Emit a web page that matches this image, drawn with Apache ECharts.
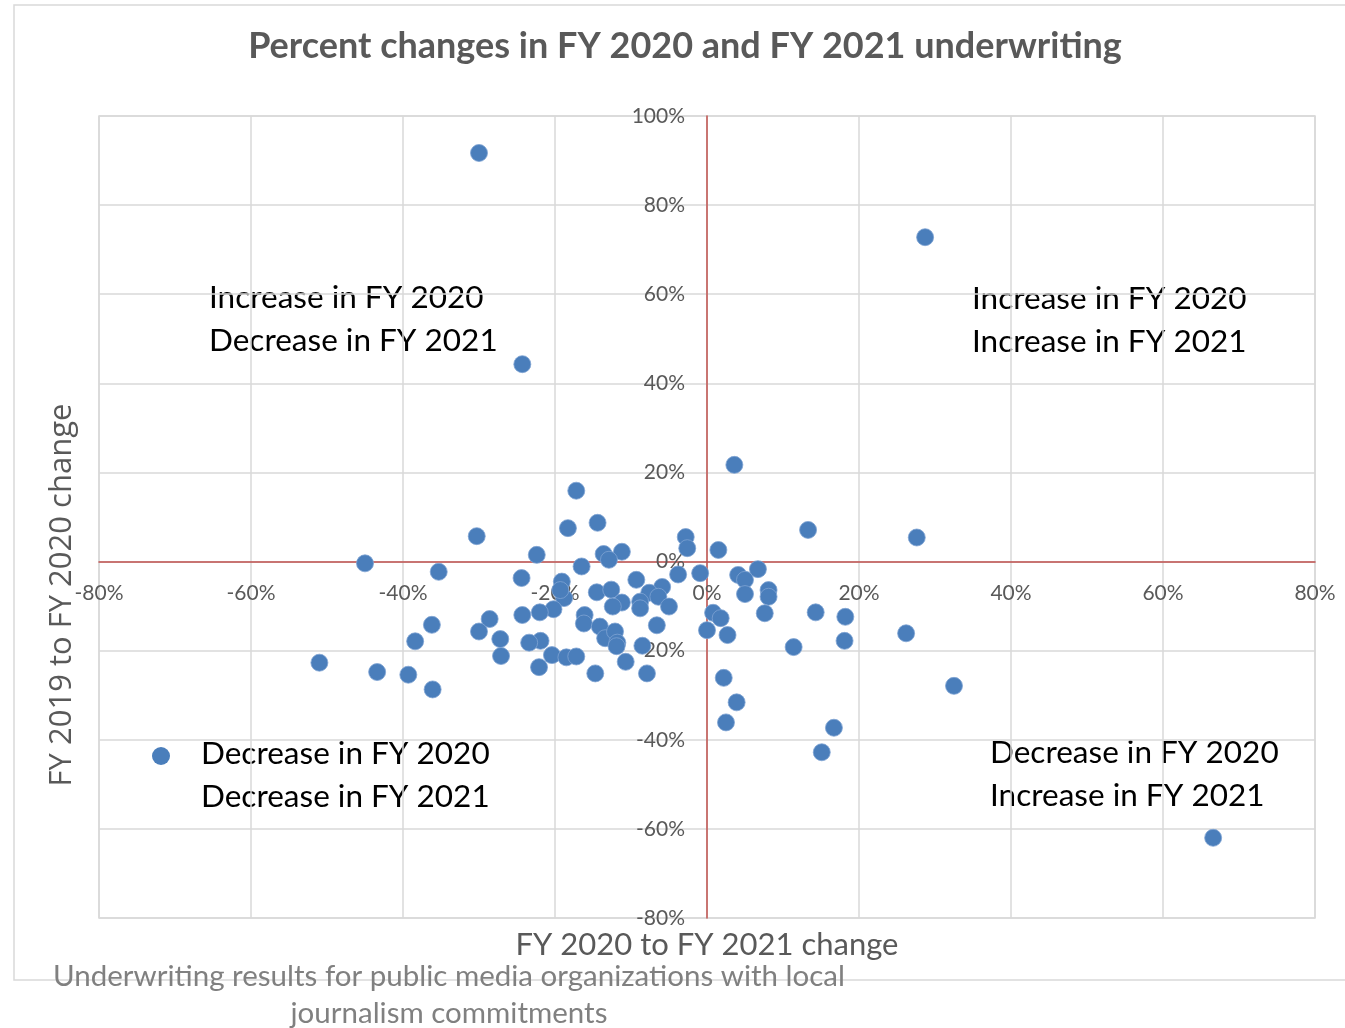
<!DOCTYPE html>
<html>
<head>
<meta charset="utf-8">
<script src="https://cdn.jsdelivr.net/npm/echarts@6/dist/echarts.min.js"></script>
<style>
  html, body { margin: 0; padding: 0; background: #fff; }
  #mainChart { width: 1345px; height: 1028px; }
</style>
</head>
<body>
<div id="mainChart"></div>
<script>
  // FY 2020 -> FY 2021 change (x, %)
  var fy21Change = [
    -30.0, 28.7, -24.3, 3.6, -17.2, 13.3, 27.6, -30.3, -18.3, -14.4,
    -2.8, -2.6, 1.5, -22.4, -13.6, -11.2, -12.9, -45.0, -35.3, -16.5,
    -0.9, -3.8, 6.7, 4.1, 5.0, -9.3, -24.4, -19.1, 5.0, 8.1,
    8.1, -5.9, -7.6, -14.5, -12.6, -18.8, -8.8, -6.4, -11.2, -12.4,
    -8.8, -5.0, -20.2, -22.0, -24.3, 0.8, 1.8, 7.6, 14.3, 18.2,
    -28.6, -16.1, -16.2, -6.6, -14.1, -36.2, -30.0, 0.0, -13.4, -12.1,
    2.7, 26.2, -27.2, -11.8, -38.4, -21.9, -23.4, 18.1, -8.5, 11.4,
    -27.1, -20.4, -18.5, -17.2, -10.7, -51.0, -22.1, -14.7, -7.9, -43.4,
    -39.3, -36.1, 2.2, 32.5, 3.9, 2.5, 16.7, 15.1, 66.6, -19.3,
    -11.9
  ];
  // FY 2019 -> FY 2020 change (y, %)
  var fy20Change = [
    91.7, 72.8, 44.3, 21.7, 15.9, 7.1, 5.4, 5.7, 7.5, 8.7,
    5.5, 3.0, 2.6, 1.5, 1.7, 2.2, 0.4, -0.4, -2.3, -1.1,
    -2.6, -2.9, -1.7, -3.0, -4.1, -4.1, -3.7, -4.5, -7.3, -6.4,
    -7.9, -5.7, -7.0, -6.9, -6.3, -8.2, -9.0, -7.9, -9.2, -10.1,
    -10.5, -10.1, -10.7, -11.4, -12.0, -11.5, -12.7, -11.6, -11.4, -12.4,
    -12.9, -12.0, -13.9, -14.3, -14.6, -14.2, -15.7, -15.4, -17.2, -15.7,
    -16.5, -16.1, -17.4, -18.2, -17.9, -17.8, -18.2, -17.8, -18.9, -19.2,
    -21.2, -21.0, -21.5, -21.3, -22.5, -22.7, -23.7, -25.1, -25.1, -24.8,
    -25.4, -28.7, -26.1, -27.9, -31.6, -36.1, -37.3, -42.8, -62.0, -6.4,
    -19.0
  ];

  var points = fy21Change.map(function (x, i) { return [x, fy20Change[i]]; });

  var quadrantLabels = [
    ['Increase in FY 2020', 'Decrease in FY 2021'],
    ['Increase in FY 2020', 'Increase in FY 2021'],
    ['Decrease in FY 2020', 'Decrease in FY 2021'],
    ['Decrease in FY 2020', 'Increase in FY 2021']
  ];
  // centre of the first line of each label
  var quadrantPos = [[209, 298], [972, 299], [201, 754], [990, 753]];

  var gridColor = '#d9d9d9';
  var redLine = '#c0504d';
  var labelColor = '#595959';

  // plot box
  var gLeft = 99, gRight = 30, gTop = 116, gBottom = 110;
  var plotW = 1345 - gLeft - gRight, plotH = 1028 - gTop - gBottom;
  // move axes (with their labels) onto the zero lines
  var xOffset = -(plotH * 80 / 180);
  var yOffset = -(plotW * 80 / 160);

  var graphics = [
    {
      type: 'rect', shape: { x: 14, y: 5, width: 1345, height: 975 },
      style: { fill: null, stroke: gridColor, lineWidth: 1.5 }, z: -10
    },
    {
      type: 'text', x: 685, y: 46,
      style: { text: 'Percent changes in FY 2020 and FY 2021 underwriting', fill: labelColor,
        font: 'bold 36px Lato', align: 'center', verticalAlign: 'middle' }
    },
    {
      type: 'text', x: 707, y: 945,
      style: { text: 'FY 2020 to FY 2021 change', fill: labelColor,
        font: '31px Lato', align: 'center', verticalAlign: 'middle' }
    },
    {
      type: 'text', x: 62, y: 595, rotation: Math.PI / 2,
      style: { text: 'FY 2019 to FY 2020 change', fill: labelColor,
        font: '31px "Open Sans"', align: 'center', verticalAlign: 'middle' }
    },
    {
      type: 'text', x: 449, y: 995,
      style: { text: 'Underwriting results for public media organizations with local\njournalism commitments',
        fill: '#808080', font: '29.5px Lato', lineHeight: 37, align: 'center', verticalAlign: 'middle' }
    }
  ];
  quadrantLabels.forEach(function (lines, i) {
    graphics.push({
      type: 'text', x: quadrantPos[i][0], y: quadrantPos[i][1] - 21.5,
      style: { text: lines.join('\n'), fill: '#000', font: '31.5px Lato', lineHeight: 43,
        align: 'left', verticalAlign: 'top' }
    });
  });

  var myChart = echarts.init(document.getElementById('mainChart'));
  myChart.setOption({
    animation: false,
    backgroundColor: '#fff',
    grid: { left: gLeft, right: gRight, top: gTop, bottom: gBottom, show: true, borderColor: gridColor, borderWidth: 1.5 },
    legend: {
      data: [' '], left: 152, top: 747, padding: 0, icon: 'circle', itemWidth: 18, itemHeight: 18,
      itemStyle: { borderWidth: 0 },
      textStyle: { fontSize: 1, color: '#fff' }
    },
    xAxis: {
      type: 'value', min: -80, max: 80, interval: 20, position: 'bottom', offset: xOffset,
      axisLine: { onZero: false, lineStyle: { color: redLine, width: 1.5 } },
      axisTick: { show: false },
      axisLabel: { formatter: '{value}%', color: labelColor, fontSize: 21, fontFamily: 'Lato', margin: 21 },
      splitLine: { lineStyle: { color: gridColor, width: 1.5 } }
    },
    yAxis: {
      type: 'value', min: -80, max: 100, interval: 20, position: 'left', offset: yOffset,
      axisLine: { onZero: false, lineStyle: { color: redLine, width: 1.5 } },
      axisTick: { show: false },
      axisLabel: { formatter: '{value}%', color: labelColor, fontSize: 21, fontFamily: 'Lato', margin: 22 },
      splitLine: { lineStyle: { color: gridColor, width: 1.5 } }
    },
    graphic: graphics,
    series: [
      {
        name: ' ',
        type: 'scatter',
        data: points,
        symbolSize: 17,
        itemStyle: { color: '#4a7ebb', borderColor: '#7fa3d3', borderWidth: 0.8, opacity: 1 }
      }
    ]
  });
</script>
</body>
</html>
